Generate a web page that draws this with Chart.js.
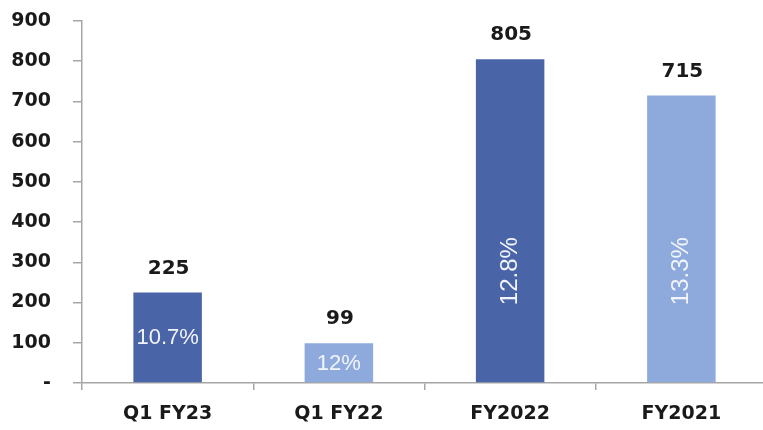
<!DOCTYPE html>
<html>
<head>
<meta charset="utf-8">
<script src="https://cdn.jsdelivr.net/npm/chart.js@4/dist/chart.umd.min.js"></script>
<style>
  html, body { margin: 0; padding: 0; background: #fff; overflow: hidden; }
  #wrap { width: 767px; height: 430px; }
</style>
</head>
<body>
<div id="wrap"><canvas id="chart"></canvas></div>
<script>
// data
const categories = ['Q1 FY23', 'Q1 FY22', 'FY2022', 'FY2021'];
const values = [225, 99, 805, 715];
const pctLabels = ['10.7%', '12%', '12.8%', '13.3%'];
const barColors = ['#4a64a8', '#8eaadc', '#4a64a8', '#8eaadc'];
const yTicks = [0, 100, 200, 300, 400, 500, 600, 700, 800, 900];

const axisGray = '#a6a6a6';

// value on top, percentage inside (rotated when the bar is tall)
const barLabels = {
  id: 'barLabels',
  afterDatasetsDraw(chart) {
    const ctx = chart.ctx;
    const yScale = chart.scales.y;
    const meta = chart.getDatasetMeta(0);
    meta.data.forEach((bar, i) => {
      ctx.save();
      ctx.fillStyle = '#1a1a1a';
      ctx.font = 'bold 20px "DejaVu Sans"';
      ctx.textAlign = 'center';
      ctx.textBaseline = 'bottom';
      ctx.fillText(String(values[i]), bar.x + 1, bar.y - 14);

      ctx.fillStyle = '#f2f4fb';
      const h = bar.base - bar.y;
      if (h > 200) {
        ctx.font = '24px "Liberation Sans"';
        ctx.translate(bar.x, yScale.getPixelForValue(278));
        ctx.rotate(-Math.PI / 2);
        ctx.textBaseline = 'middle';
        ctx.fillText(pctLabels[i], 0, 0);
      } else {
        ctx.font = '22px "Liberation Sans"';
        ctx.textBaseline = 'middle';
        ctx.fillText(pctLabels[i], bar.x, (bar.y + bar.base) / 2 + 1);
      }
      ctx.restore();
    });
  }
};

new Chart(document.getElementById('chart'), {
  type: 'bar',
  data: {
    labels: categories,
    datasets: [{
      data: values,
      backgroundColor: barColors,
      barPercentage: 0.4,
      categoryPercentage: 1.0
    }]
  },
  plugins: [barLabels],
  options: {
    responsive: true,
    maintainAspectRatio: false,
    animation: false,
    layout: { padding: { top: 21, right: 0, bottom: 0, left: 0 } },
    plugins: { legend: { display: false }, tooltip: { enabled: false } },
    scales: {
      x: {
        grid: { drawOnChartArea: false, color: axisGray, tickLength: 7, lineWidth: 1.5 },
        border: { color: axisGray, width: 1.5 },
        ticks: {
          color: '#1a1a1a',
          font: { family: 'DejaVu Sans', size: 19, weight: 'bold' },
          padding: 13
        },
        afterFit(scale) { scale.height = 47; }
      },
      y: {
        min: 0,
        max: 900,
        grid: { drawOnChartArea: false, color: axisGray, tickLength: 9, lineWidth: 1.5 },
        border: { color: axisGray, width: 1.5 },
        afterBuildTicks(scale) { scale.ticks = yTicks.map(v => ({ value: v })); },
        ticks: {
          color: '#1a1a1a',
          font: { family: 'DejaVu Sans', size: 19, weight: 'bold' },
          padding: 22,
          callback: v => v === 0 ? '-' : String(v)
        },
        afterFit(scale) {
          scale.width = 82;
          scale.paddingTop = 0;
          scale.paddingBottom = 0;
        }
      }
    }
  }
});
</script>
</body>
</html>
